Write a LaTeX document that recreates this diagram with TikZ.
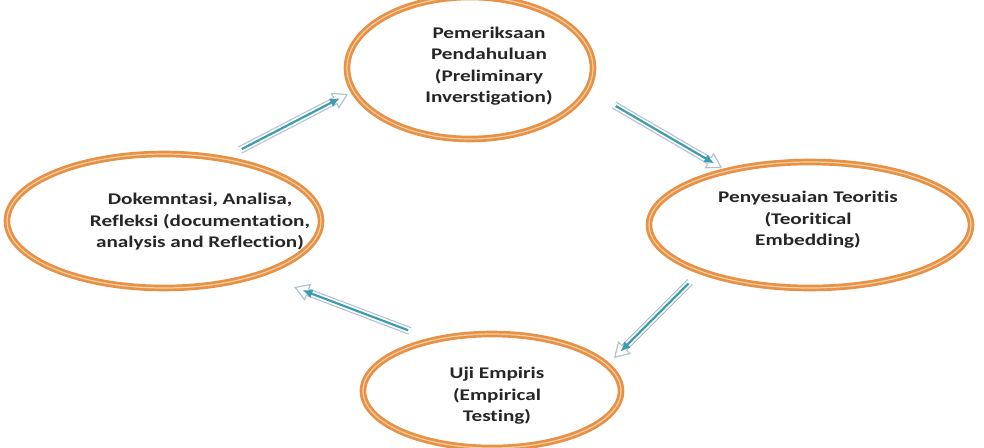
\documentclass[tikz,border=0pt]{standalone}
\usepackage{fontspec}
\setmainfont{Carlito}[FakeStretch=1.3,Ligatures={NoCommon}]
\usetikzlibrary{shapes.geometric,arrows.meta}
\definecolor{ringor}{RGB}{230,145,70}
\definecolor{ringlt}{RGB}{248,205,160}
\definecolor{arrteal}{RGB}{60,155,172}
\definecolor{arrout}{RGB}{175,195,208}
\tikzset{
  ring/.style={ellipse, draw=ringor, line width=2.7pt, double=ringlt, double distance=1.2pt, inner sep=0pt, fill=white},
  lbl/.style={align=center, font=\fontsize{16.3}{21.5}\selectfont\bfseries, text=black!85, inner sep=0pt},
  shaftout/.style={draw=arrout, line width=8pt},
  shaftin/.style={draw=white, line width=5.6pt},
  tealarr/.style={draw=arrteal, line width=2.2pt, -{Latex[length=10pt,width=9pt]}},
}
\begin{document}
\begin{tikzpicture}[x=1pt,y=-1pt]
\useasboundingbox (0,0) rectangle (984,447);
% ellipses
\node[ring, minimum width=246pt, minimum height=142pt] (top) at (470,68) {};
\node[ring, minimum width=314pt, minimum height=134pt] (left) at (164,221) {};
\node[ring, minimum width=322pt, minimum height=126pt] (right) at (810,225) {};
\node[ring, minimum width=258pt, minimum height=114pt] (bot) at (492,391) {};
% labels
\node[lbl] (ttop) at (489,66) {Pemeriksaan\\Pendahuluan\\(Preliminary\\Inverstigation)};
\node[lbl] (tleft) at (200,222) {Dokemntasi, Analisa,\\Refleksi (documentation,\\analysis and Reflection)};
\node[lbl] (tright) at (808,220) {Penyesuaian Teoritis\\(Teoritical\\Embedding)};
\node[lbl] (tbot) at (497,396) {Uji Empiris\\(Empirical\\Testing)};
% arrow coordinates
\coordinate (a1s) at (240,150); \coordinate (a1e) at (348,94);
\coordinate (a2s) at (614,105); \coordinate (a2e) at (722,168);
\coordinate (a3s) at (690,282); \coordinate (a3e) at (614,358);
\coordinate (a4s) at (410,331); \coordinate (a4e) at (294,287);
% arrows
\foreach \s/\e in {a1s/a1e,a2s/a2e,a3s/a3e,a4s/a4e}{
  \draw[shaftout, -{Triangle[length=15pt,width=18pt,open,fill=white,line width=1.2pt]}] (\s) -- (\e);
  \draw[shaftin, shorten >=13pt] (\s) -- (\e);
  \draw[tealarr, shorten >=9pt, shorten <=2pt] (\s) -- (\e);
}
\end{tikzpicture}
\end{document}
